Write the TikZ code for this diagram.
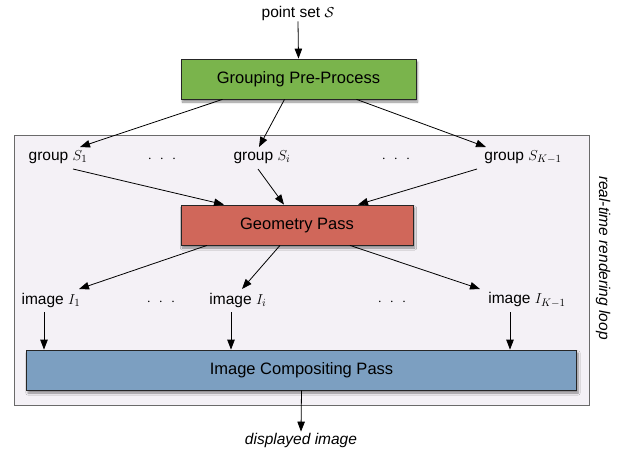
\documentclass[tikz,border=0pt]{standalone}
\usepackage{fontspec}
\setmainfont{Liberation Sans}
\usetikzlibrary{arrows.meta,shadows.blur}
\definecolor{grpgreen}{HTML}{7AB44C}
\definecolor{geored}{HTML}{D0675A}
\definecolor{compblue}{HTML}{7C9FC1}
\definecolor{loopfill}{HTML}{F4F1F6}
\definecolor{loopdraw}{HTML}{6A6A6A}
\newcommand{\mydots}{$\cdot\hspace{5pt}\cdot\hspace{5pt}\cdot$}
\tikzset{
  box/.style={draw=black!85, line width=0.8pt, minimum height=40pt, inner sep=0pt,
    font=\fontsize{16.5}{18}\selectfont,
    blur shadow={shadow xshift=1.5pt, shadow yshift=-3pt, shadow blur steps=6, shadow opacity=45}},
  lbl/.style={font=\fontsize{15.5}{17}\selectfont, inner sep=1pt},
  arr/.style={-{Triangle[length=10pt,width=7.5pt]}, line width=0.8pt},
}
\begin{document}
\begin{tikzpicture}[x=1pt,y=-1pt]
\useasboundingbox (0,0) rectangle (617,453);
% loop background
\node[draw=loopdraw, fill=loopfill, line width=0.8pt, minimum width=575pt, minimum height=270pt, inner sep=0pt] (loop) at (301.5,270) {};
\node[lbl, rotate=-90, font=\fontsize{15.5}{17}\selectfont\itshape] (looplbl) at (603,258) {real-time rendering loop};
% top
\node[lbl] (pts) at (298,13) {point set $\mathcal{S}$};
\node[box, fill=grpgreen, minimum width=235pt] (grp) at (298.5,79) {Grouping Pre-Process};
\draw[arr] (pts.south) -- (grp.north);
% groups
\node[lbl] (g1) at (58,157) {group $S_1$};
\node[lbl] (d1) at (162,159) {\mydots};
\node[lbl] (gi) at (262,157) {group $S_i$};
\node[lbl] (d2) at (396,159) {\mydots};
\node[lbl] (gk) at (523,157) {group $S_{K-1}$};
\coordinate (e1) at (80,147);
\coordinate (ei) at (259,147);
\coordinate (ek) at (486,147);
\draw[arr] ([xshift=-76pt]grp.south) -- (e1);
\draw[arr] ([xshift=-14pt]grp.south) -- (ei);
\draw[arr] ([xshift=58pt]grp.south) -- (ek);
% geometry
\node[box, fill=geored, minimum width=232pt] (geo) at (297,225) {Geometry Pass};
\coordinate (s1) at (73,169);
\coordinate (si) at (258,169);
\coordinate (sk) at (477,169);
\draw[arr] (s1) -- ([xshift=-73pt]geo.north);
\draw[arr] (si) -- ([xshift=-13pt]geo.north);
\draw[arr] (sk) -- ([xshift=61pt]geo.north);
% images
\node[lbl] (i1) at (51,300) {image $I_1$};
\node[lbl] (d3) at (161,302) {\mydots};
\node[lbl] (ii) at (238,300) {image $I_i$};
\node[lbl] (d4) at (392,302) {\mydots};
\node[lbl] (ik) at (527,300) {image $I_{K-1}$};
\coordinate (f1) at (79,289);
\coordinate (fi) at (242,289);
\coordinate (fk) at (480,289);
\draw[arr] ([xshift=-90pt]geo.south) -- (f1);
\draw[arr] ([xshift=-17pt]geo.south) -- (fi);
\draw[arr] ([xshift=53pt]geo.south) -- (fk);
% compositing
\node[box, fill=compblue, minimum width=550pt] (comp) at (301.5,370) {Image Compositing Pass};
\coordinate (t1) at (44,312);
\coordinate (ti) at (231,312);
\coordinate (tk) at (510,312);
\draw[arr] (t1) -- (t1 |- comp.north);
\draw[arr] (ti) -- (ti |- comp.north);
\draw[arr] (tk) -- (tk |- comp.north);
\node[lbl, font=\fontsize{15.5}{17}\selectfont\itshape] (disp) at (301,440) {displayed image};
\draw[arr] (comp.south) -- (disp.north);
\end{tikzpicture}
\end{document}
